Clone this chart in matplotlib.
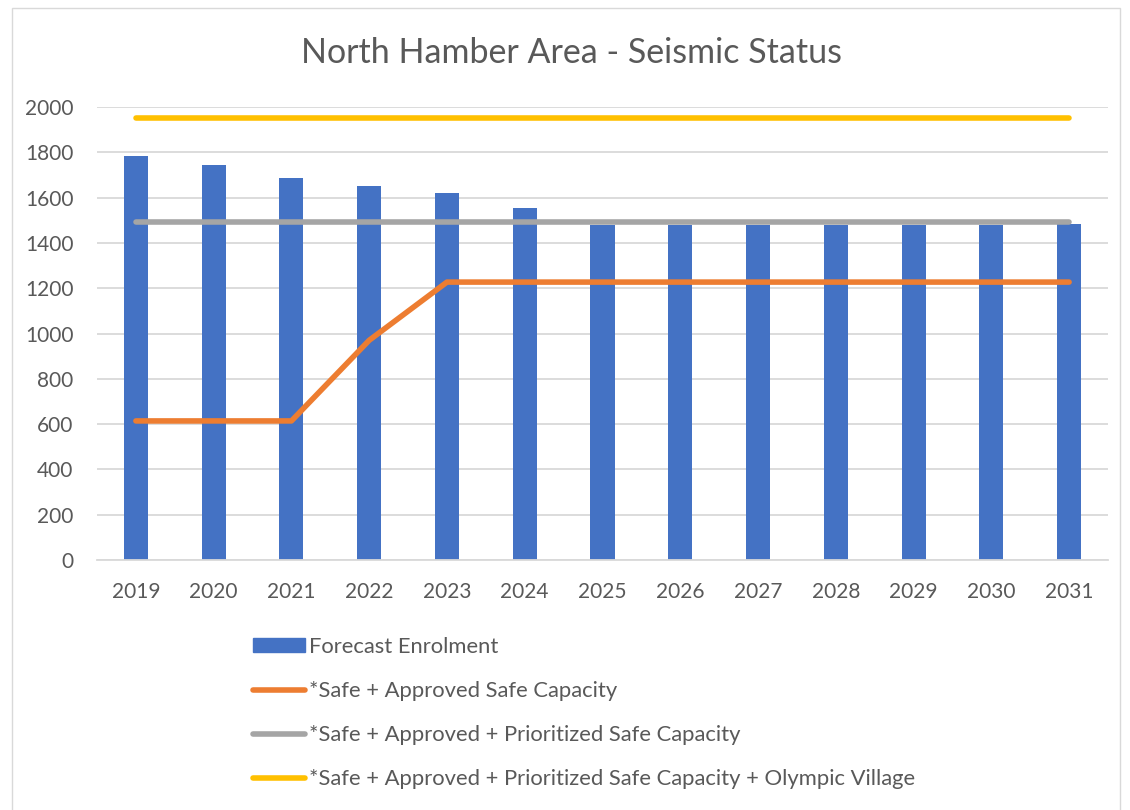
import matplotlib.pyplot as plt
import numpy as np
from matplotlib.patches import Rectangle
from matplotlib.lines import Line2D

plt.rcParams['font.family'] = ['Lato', 'DejaVu Sans']

years = ['2019', '2020', '2021', '2022', '2023', '2024', '2025',
         '2026', '2027', '2028', '2029', '2030', '2031']
enrolment = [1783, 1744, 1686, 1653, 1620, 1553, 1479,
             1479, 1479, 1479, 1479, 1479, 1485]
safe_approved = [614, 614, 614, 970, 1227, 1227, 1227,
                 1227, 1227, 1227, 1227, 1227, 1227]
safe_prioritized = [1491] * 13
safe_olympic = [1951] * 13

labels = ['Forecast Enrolment',
          '*Safe + Approved Safe Capacity',
          '*Safe + Approved + Prioritized Safe Capacity',
          '*Safe + Approved + Prioritized Safe Capacity + Olympic Village']

txt = '#595959'
grid = '#d9d9d9'
c_bar = '#4472c4'
c_or = '#ed7d31'
c_gr = '#a5a5a5'
c_ye = '#ffc000'

fig = plt.figure(figsize=(11.3, 8.1), dpi=100)
ax = fig.add_axes([97 / 1130, 1 - 560 / 810, 1011 / 1130, 453 / 810])

x = np.arange(len(years))
ax.bar(x, enrolment, width=0.31, color=c_bar, zorder=2)
ax.plot(x, safe_approved, color=c_or, lw=4, solid_capstyle='round', zorder=3)
ax.plot(x, safe_prioritized, color=c_gr, lw=4, solid_capstyle='round', zorder=3)
ax.plot(x, safe_olympic, color=c_ye, lw=4, solid_capstyle='round', zorder=3)

ax.set_xlim(-0.5, len(years) - 0.5)
ax.set_ylim(0, 2000)
ax.set_yticks(range(0, 2001, 200))
ax.set_xticks(x)
ax.set_xticklabels(years)
ax.yaxis.grid(True, color=grid, lw=1.3, zorder=0)
ax.set_axisbelow(True)
for s in ['top', 'right', 'left']:
    ax.spines[s].set_visible(False)
ax.spines['bottom'].set_color(grid)
ax.spines['bottom'].set_linewidth(1.3)
ax.tick_params(axis='both', length=0, labelsize=15, colors=txt)
ax.tick_params(axis='y', pad=17)
ax.tick_params(axis='x', pad=16)

fig.text(0.506, 1 - 53 / 810, 'North Hamber Area - Seismic Status',
         ha='center', va='center', fontsize=24.5, color=txt)

handles = [Rectangle((0, 0), 1, 1, color=c_bar),
           Line2D([], [], color=c_or, lw=4, solid_capstyle='round'),
           Line2D([], [], color=c_gr, lw=4, solid_capstyle='round'),
           Line2D([], [], color=c_ye, lw=4, solid_capstyle='round')]
leg = fig.legend(handles, labels, loc='upper left',
                 bbox_to_anchor=(244 / 1130, 1 - 628 / 810),
                 frameon=False, fontsize=15.8, labelspacing=1.1,
                 handlelength=2.4, handleheight=0.6, handletextpad=0.15,
                 borderaxespad=0)
for t in leg.get_texts():
    t.set_color(txt)

fig.patches.append(Rectangle((12 / 1130, -0.01), 1108 / 1130, 1 - 8 / 810 + 0.01,
                             transform=fig.transFigure, fill=False,
                             edgecolor=grid, lw=1))

fig.savefig('out.png', dpi=100)
